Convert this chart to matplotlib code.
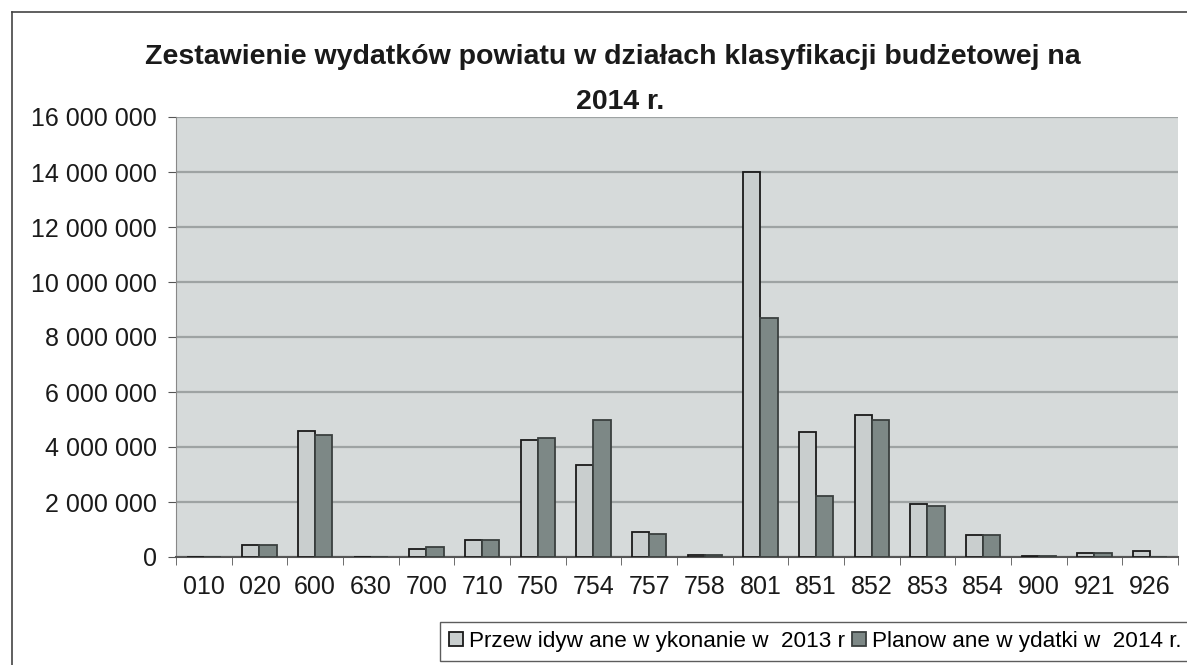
import matplotlib
matplotlib.use("Agg")
import matplotlib.pyplot as plt
import numpy as np
from matplotlib.lines import Line2D

categories = ["010", "020", "600", "630", "700", "710", "750", "754", "757",
              "758", "801", "851", "852", "853", "854", "900", "921", "926"]
vals_2013 = [0, 450000, 4600000, 0, 280000, 620000, 4240000, 3340000, 920000,
             80000, 14000000, 4550000, 5150000, 1920000, 810000, 50000, 140000, 210000]
vals_2014 = [0, 440000, 4420000, 0, 360000, 620000, 4320000, 5000000, 850000,
             80000, 8700000, 2210000, 4970000, 1850000, 810000, 50000, 140000, 0]
series_names = ["Przew idyw ane w ykonanie w  2013 r", "Planow ane w ydatki w  2014 r."]
title_lines = ["Zestawienie wydatków powiatu w działach klasyfikacji budżetowej na", "2014 r."]
yticks = [0, 2000000, 4000000, 6000000, 8000000, 10000000, 12000000, 14000000, 16000000]

plt.rcParams['font.family'] = ['Liberation Sans', 'DejaVu Sans']

W, H = 1187, 665
fig = plt.figure(figsize=(W / 100, H / 100), dpi=100)
fig.patch.set_facecolor('white')

ax = fig.add_axes([176 / W, (H - 557) / H, (1178 - 176) / W, (557 - 117) / H])
ax.set_facecolor('#d6dada')

x = np.arange(len(categories))
bw = 0.31
light = '#c9cece'
dark = '#7d8886'
ax.bar(x - bw / 2, vals_2013, width=bw, color=light, edgecolor='#1a1a1a', linewidth=1.3,
       label=series_names[0], zorder=3)
ax.bar(x + bw / 2, vals_2014, width=bw, color=dark, edgecolor='#3a3f3e', linewidth=1.3,
       label=series_names[1], zorder=3)

ax.set_xlim(-0.5, len(categories) - 0.5)
ax.set_ylim(0, 16000000)
ax.set_yticks(yticks)
ax.set_yticklabels([f"{v:,}".replace(",", " ") for v in yticks], fontsize=18, color='#1a1a1a')
ax.set_xticks(x)
ax.set_xticklabels(categories, fontsize=18, color='#1a1a1a')
ax.tick_params(axis='x', which='major', length=0, pad=13)
ax.set_xticks(np.arange(-0.5, len(categories), 1.0), minor=True)
ax.tick_params(axis='x', which='minor', length=6, color='#555555', direction='out')
ax.tick_params(axis='y', length=6, color='#555555', pad=8)
ax.yaxis.grid(True, color='#9ea3a3', linewidth=1.6, zorder=1)
ax.set_axisbelow(True)
for side in ['top', 'right']:
    ax.spines[side].set_visible(False)
ax.spines['left'].set_color('#888888')
ax.spines['bottom'].set_color('#555555')
ax.spines['bottom'].set_linewidth(1.5)

fig.text(613 / W, 1 - 57 / H, title_lines[0], ha='center', va='center', fontsize=20.5,
         fontweight='bold', color='#1a1a1a')
fig.text(620 / W, 1 - 102 / H, title_lines[1], ha='center', va='center', fontsize=20.5,
         fontweight='bold', color='#1a1a1a')

# outer chart border
fig.add_artist(Line2D([12 / W, 12 / W], [0, 1 - 12 / H], transform=fig.transFigure,
                      color='#444444', linewidth=1.2))
fig.add_artist(Line2D([12 / W, 1], [1 - 12 / H, 1 - 12 / H], transform=fig.transFigure,
                      color='#444444', linewidth=1.2))

leg = fig.legend(loc='upper left', bbox_to_anchor=(440 / W, 1 - 622 / H), ncol=2,
                 prop={'size': 16.2},
                 frameon=True, fancybox=False, borderaxespad=0,
                 handlelength=0.6, handleheight=0.6, handletextpad=0.3, columnspacing=0.3,
                 borderpad=0.4, edgecolor='#333333')
leg.get_frame().set_linewidth(1.0)

fig.savefig("out.png", dpi=100, facecolor='white')
